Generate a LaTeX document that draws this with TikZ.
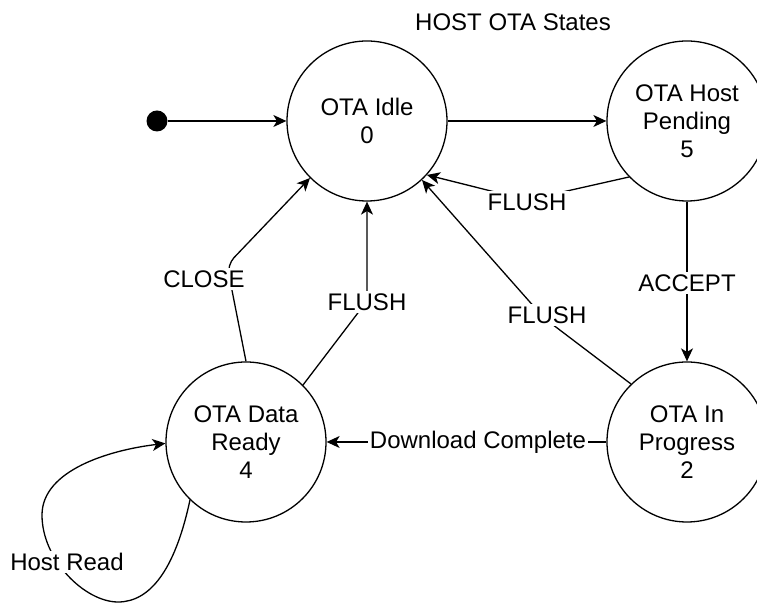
\documentclass[tikz,border=0pt]{standalone}
\usepackage{fontspec}
\setmainfont{Liberation Sans}
\usetikzlibrary{arrows.meta}
\begin{document}
\begin{tikzpicture}[x=0.5pt,y=-0.5pt,
  every node/.style={font=\fontsize{12}{14}\selectfont},
  state/.style={circle,draw,line width=0.65pt,minimum size=80pt,inner sep=0pt,align=center},
  initdot/.style={circle,fill=black,minimum size=10.5pt,inner sep=0pt},
  conn/.style={line width=0.65pt,-{Stealth[length=6.5pt,width=6pt,inset=1.8pt]}},
  lbl/.style={fill=white,inner sep=1.2pt,align=center}]
\useasboundingbox (0,0) rectangle (757,603);
\node[anchor=center] (title) at (513,22) {HOST OTA States};
\node[initdot] (init) at (157,121) {};
\node[state] (idle) at (367,121) {OTA Idle\\0};
\node[state] (hp) at (687,121) {OTA Host\\Pending\\5};
\node[state] (ip) at (687,442) {OTA In\\Progress\\2};
\node[state] (dr) at (246,442) {OTA Data\\Ready\\4};
\coordinate (w1) at (527,200);
\coordinate (w2) at (544,318);
\coordinate (w3) at (227,265);
\coordinate (w4) at (367,301);
\coordinate (l1) at (118,602);
\coordinate (l2) at (42,515);
\draw[conn] (init) -- (idle.west);
\draw[conn] (idle.east) -- (hp.west);
\draw[conn] (hp.224) -- (w1) -- (idle.-42);
\node[lbl] (lflush1) at (527,202) {FLUSH};
\draw[conn] (hp.south) -- node[lbl,pos=0.51] (laccept) {ACCEPT} (ip.north);
\draw[conn] (ip.134) -- (w2) -- (idle.-47);
\node[lbl] (lflush2) at (547,315) {FLUSH};
\draw[conn,rounded corners=5pt] (dr.90) -- (w3) -- (idle.225);
\node[lbl] (lclose) at (204,279) {CLOSE};
\draw[conn] (dr.45) -- (w4) -- (idle.south);
\node[lbl] (lflush3) at (367,302) {FLUSH};
\draw[conn] (ip.west) -- (dr.east);
\node[lbl] (ldl) at (478,442) {Download Complete};
\draw[conn] (dr.226) .. controls (175,570) and (150,602) .. (l1)
  .. controls (85,602) and (42,560) .. (l2)
  .. controls (42,470) and (110,450) .. (dr.181);
\node[lbl] (lhost) at (67,562) {Host Read};
\end{tikzpicture}
\end{document}
